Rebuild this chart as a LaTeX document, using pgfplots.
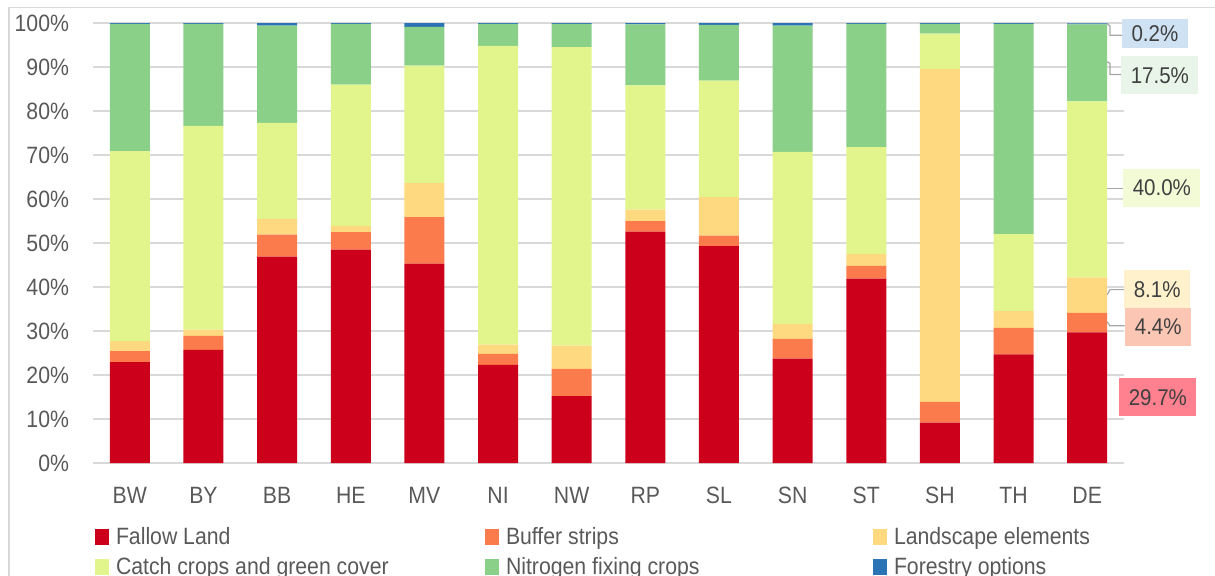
\documentclass[border=0pt]{standalone}
\usepackage{fontspec}
\setmainfont{Liberation Sans}[FakeStretch=0.9]
\usepackage{pgfplots}
\pgfplotsset{compat=1.18}
\usepackage{pgfplotstable}

\definecolor{cF}{HTML}{CC001A}
\definecolor{cB}{HTML}{FC7B4C}
\definecolor{cL}{HTML}{FED980}
\definecolor{cC}{HTML}{E1F58C}
\definecolor{cN}{HTML}{8AD088}
\definecolor{cFo}{HTML}{2A74B5}
\definecolor{gridgray}{HTML}{D9D9D9}
\definecolor{txtgray}{HTML}{595959}
\definecolor{lblgray}{HTML}{404040}
\definecolor{leadgray}{HTML}{A6A6A6}
\definecolor{bFo}{HTML}{CFE2F3}
\definecolor{bN}{HTML}{E8F5E8}
\definecolor{bC}{HTML}{F2FBD6}
\definecolor{bL}{HTML}{FFF1CC}
\definecolor{bB}{HTML}{FBC6B3}
\definecolor{bF}{HTML}{FF808F}

\pgfplotstableread{
cat F B L C N Fo
BW 22.9 2.5 2.3 43.2 28.9 0.2
BY 25.7 3.2 1.4 46.3 23.2 0.2
BB 46.9 5.0 3.6 21.8 22.1 0.6
HE 48.5 4.0 1.4 32.1 13.8 0.2
MV 45.3 10.6 7.7 26.7 8.8 0.9
NI 22.3 2.5 2.1 67.9 5.0 0.2
NW 15.2 6.2 5.3 67.8 5.3 0.2
RP 52.6 2.4 2.6 28.2 13.9 0.3
SL 49.3 2.4 8.7 26.5 12.7 0.4
SN 23.7 4.5 3.4 39.1 28.7 0.6
ST 41.9 2.9 2.7 24.3 28.0 0.2
SH 9.2 4.7 75.7 8.0 2.2 0.2
TH 24.7 6.0 3.8 17.5 47.8 0.2
DE 29.7 4.4 8.1 40.0 17.5 0.2
}\datatable

\begin{document}
\begin{tikzpicture}[x=1pt,y=1pt]
\begin{axis}[
  at={(46.5pt,56pt)}, anchor=south west,
  width=515.5pt, height=220pt, scale only axis,
  xmin=-0.5, xmax=13.5, ymin=0, ymax=100,
  ybar stacked, bar width=20pt,
  clip=false,
  font=\fontsize{11.8}{14}\selectfont,
  xtick={0,...,13},
  xticklabels={BW,BY,BB,HE,MV,NI,NW,RP,SL,SN,ST,SH,TH,DE},
  ytick={0,10,...,100},
  yticklabels={0\%,10\%,20\%,30\%,40\%,50\%,60\%,70\%,80\%,90\%,100\%},
  axis line style={draw=none},
  major tick length=0pt,
  ymajorgrids,
  major grid style={color=gridgray, line width=0.8pt},
  xticklabel style={text=txtgray, inner sep=0pt, anchor=north, yshift=-11.8pt},
  yticklabel style={text=txtgray, inner sep=0pt, anchor=east, xshift=-11.8pt},
  every axis plot post/.append style={
    legend image code/.code={\fill[##1] (0pt,-3.25pt) rectangle (7pt,4.75pt);}},
  legend columns=3,
  legend cell align=left,
  legend style={at={(axis description cs:0,0)}, anchor=north west,
    xshift=1pt, yshift=-31.75pt, draw=none, fill=none, inner sep=0pt,
    text=txtgray, font=\fontsize{11.8}{14}\selectfont, row sep=3.5pt,
    nodes={inner sep=0pt, text height=9pt, text depth=2.5pt},
    /tikz/every odd column/.append style={column sep=3.3pt}},
]
\addplot[fill=cF, draw=none] table[x expr=\coordindex, y=F]{\datatable};
\addlegendentry{\makebox[184.7pt][l]{Fallow Land}}
\addplot[fill=cB, draw=none] table[x expr=\coordindex, y=B]{\datatable};
\addlegendentry{\makebox[183.7pt][l]{Buffer strips}}
\addplot[fill=cL, draw=none] table[x expr=\coordindex, y=L]{\datatable};
\addlegendentry{Landscape elements}
\addplot[fill=cC, draw=none] table[x expr=\coordindex, y=C]{\datatable};
\addlegendentry{\makebox[184.7pt][l]{Catch crops and green cover}}
\addplot[fill=cN, draw=none] table[x expr=\coordindex, y=N]{\datatable};
\addlegendentry{\makebox[183.7pt][l]{Nitrogen fixing crops}}
\addplot[fill=cFo, draw=none] table[x expr=\coordindex, y=Fo]{\datatable};
\addlegendentry{Forestry options}

% leader lines
\draw[leadgray, line width=0.6pt] (axis cs:13.27,99.9) -- (axis cs:13.31,99.3) -- (axis cs:13.31,97.2) -- (axis cs:13.47,97.2);
\draw[leadgray, line width=0.6pt] (axis cs:13.27,91.2) -- (axis cs:13.31,90.8) -- (axis cs:13.31,88.3) -- (axis cs:13.46,88.3);
\draw[leadgray, line width=0.6pt] (axis cs:13.27,62.4) -- (axis cs:13.49,62.4);
\draw[leadgray, line width=0.6pt] (axis cs:13.27,38.2) -- (axis cs:13.31,39.4) -- (axis cs:13.50,39.4);
\draw[leadgray, line width=0.6pt] (axis cs:13.27,32.1) -- (axis cs:13.31,31.2) -- (axis cs:13.51,31.2);

% data labels
\tikzset{dl/.style={anchor=west, text=lblgray, inner xsep=4.7pt, inner ysep=0pt, minimum height=19pt, font=\fontsize{11.4}{13}\selectfont}}
\node[dl, fill=bFo, minimum height=14.5pt] at (axis cs:13.469,97.6) {0.2\%};
\node[dl, fill=bN] at (axis cs:13.459,88.1) {17.5\%};
\node[dl, fill=bC] at (axis cs:13.486,62.6) {40.0\%};
\node[dl, fill=bL] at (axis cs:13.500,39.5) {8.1\%};
\node[dl, fill=bB] at (axis cs:13.514,31.0) {4.4\%};
\node[dl, fill=bF] at (axis cs:13.432,14.9) {29.7\%};
\end{axis}
\draw[gridgray, line width=0.8pt] (4.5pt,-10pt) -- (4.5pt,283.8pt) -- (640pt,283.8pt);
\pgfresetboundingbox
\path[use as bounding box] (0pt,0pt) rectangle (607.5pt,287.5pt);
\end{tikzpicture}
\end{document}
